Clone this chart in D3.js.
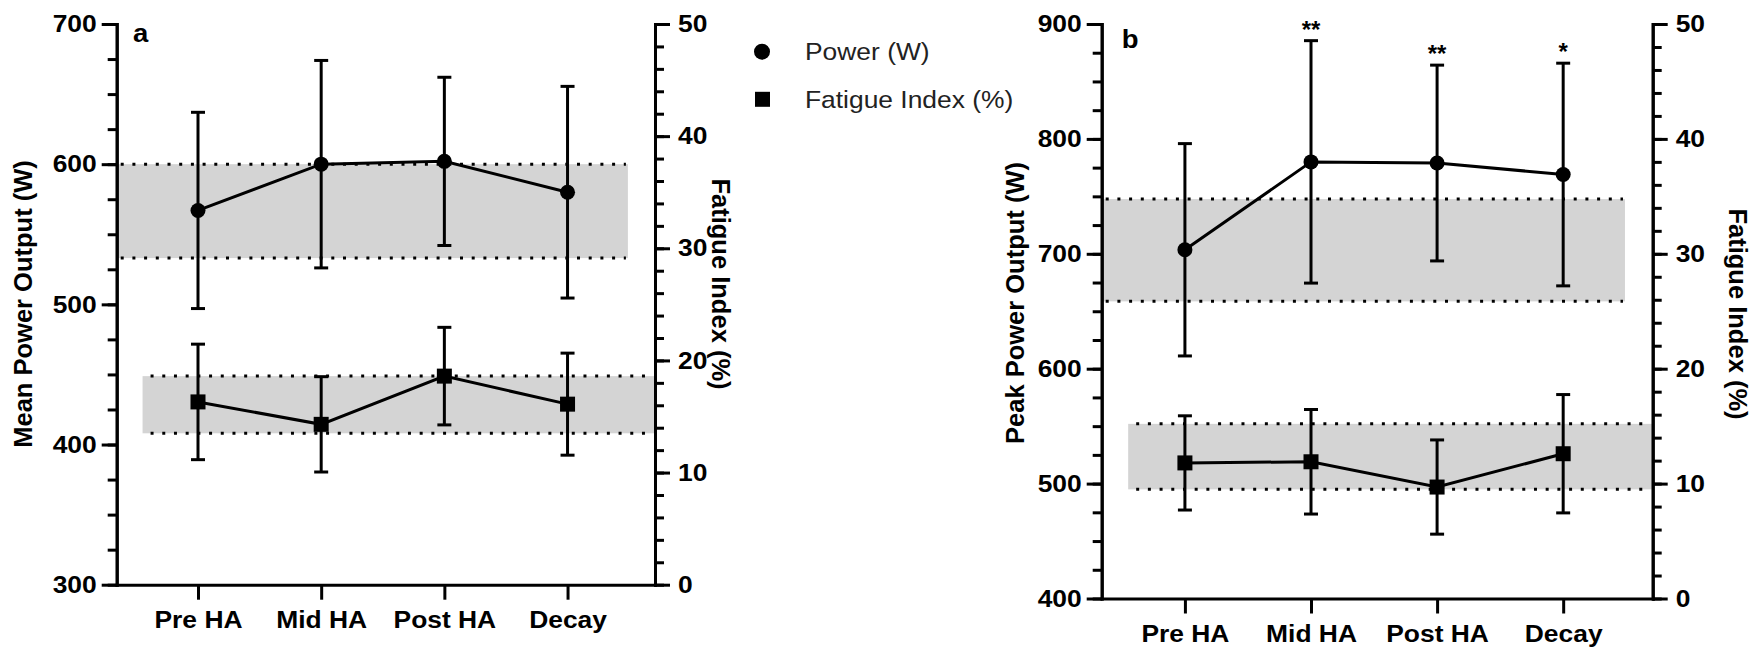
<!DOCTYPE html>
<html>
<head>
<meta charset="utf-8">
<script src="https://cdn.jsdelivr.net/npm/d3@7"></script>
<style>
  body { margin: 0; background: #fff; }
  svg { display: block; }
  text { font-family: "Liberation Sans", Arial, sans-serif; }
</style>
</head>
<body>
<svg id="chart" width="1756" height="648"></svg>
<script>
// ---- data ----
const categories = ["Pre HA", "Mid HA", "Post HA", "Decay"];

// panel a: mean power output (W) and fatigue index (%)
const meanPowerA = [567, 600, 602, 580];
const meanPowerSdA = [70, 74, 60, 75.5];
const fatigueA = [16.3, 14.3, 18.6, 16.1];
const fatigueSdA = [5.15, 4.25, 4.35, 4.55];
const powerBandA = [533, 600];
const fatigueBandA = [13.5, 18.6];

// panel b: peak power output (W) and fatigue index (%)
const peakPowerB = [703.5, 780, 779, 769];
const peakPowerSdB = [92.4, 105.5, 85.2, 96.9];
const fatigueB = [11.8, 11.9, 9.7, 12.6];
const fatigueSdB = [4.1, 4.55, 4.1, 5.15];
const powerBandB = [658.6, 747.6];
const fatigueBandB = [9.5, 15.2];
const significanceB = ["", "**", "**", "*"];

const fatigueTicks = [0, 10, 20, 30, 40, 50];

// ---- layout ----
const SX = 1.1;          // the figure's text is a little wide
const FONT = 24;
const X_DOMAIN = [-0.66, 3.71];
const UPPER_BAND_X = [-0.66, 3.49];
const LOWER_BAND_X = [-0.45, 3.71];

const svg = d3.select("#chart");

// widen text horizontally about its own anchor
function stretch(sel) {
  sel.each(function () {
    const t = d3.select(this);
    const x = +t.attr("x") || 0;
    t.attr("transform", (t.attr("transform") || "") +
      ` translate(${x},0) scale(${SX},1) translate(${-x},0)`);
  });
}

function styleAxis(g) {
  g.select(".domain").attr("stroke-width", 3).attr("stroke-linecap", "square");
  g.selectAll(".tick line").attr("stroke-width", 3);
  g.selectAll(".tick text")
    .attr("font-size", FONT).attr("font-weight", "bold").attr("fill", "#000");
  g.attr("font-family", null);
}

function drawPanel(p) {
  const g = svg.append("g");
  const x = d3.scaleLinear().domain(X_DOMAIN).range([p.left, p.right]);
  const yL = d3.scaleLinear().domain(p.powerDomain).range([p.bottom, p.top]);
  const yR = d3.scaleLinear().domain([0, 50]).range([p.bottom, p.top]);

  // shaded reference bands with dotted edges
  [[p.powerBand, yL, UPPER_BAND_X, 4], [p.fatigueBand, yR, LOWER_BAND_X, 8]].forEach(([band, y, bx, inset]) => {
    g.append("rect")
      .attr("x", x(bx[0])).attr("width", x(bx[1]) - x(bx[0]))
      .attr("y", y(band[1])).attr("height", y(band[0]) - y(band[1]))
      .attr("fill", "#d4d4d4");
    g.selectAll(null).data(band).enter().append("line")
      .attr("x1", x(bx[0]) + inset).attr("x2", x(bx[1]) - 2)
      .attr("y1", d => y(d)).attr("y2", d => y(d))
      .attr("stroke", "#000").attr("stroke-width", 3)
      .attr("stroke-dasharray", "3 8.7");
  });

  const series = [
    { mean: p.power, sd: p.powerSd, y: yL, shape: "circle" },
    { mean: p.fatigue, sd: p.fatigueSd, y: yR, shape: "square" }
  ];

  series.forEach(s => {
    const rows = s.mean.map((m, i) => ({ i, m, sd: s.sd[i] }));
    const eb = g.append("g").attr("stroke", "#000").attr("stroke-width", 3);
    eb.selectAll(".bar").data(rows).enter().append("line")
      .attr("x1", d => x(d.i)).attr("x2", d => x(d.i))
      .attr("y1", d => s.y(d.m - d.sd)).attr("y2", d => s.y(d.m + d.sd));
    rows.forEach(d => {
      [d.m - d.sd, d.m + d.sd].forEach(v => {
        eb.append("line")
          .attr("x1", x(d.i) - 7).attr("x2", x(d.i) + 7)
          .attr("y1", s.y(v)).attr("y2", s.y(v));
      });
    });

    g.append("path").datum(rows)
      .attr("fill", "none").attr("stroke", "#000").attr("stroke-width", 3)
      .attr("d", d3.line().x(d => x(d.i)).y(d => s.y(d.m)));

    if (s.shape === "circle") {
      g.selectAll(null).data(rows).enter().append("circle")
        .attr("cx", d => x(d.i)).attr("cy", d => s.y(d.m)).attr("r", 7.5)
        .attr("fill", "#000");
    } else {
      g.selectAll(null).data(rows).enter().append("rect")
        .attr("x", d => x(d.i) - 7.5).attr("y", d => s.y(d.m) - 7.5)
        .attr("width", 15).attr("height", 15).attr("fill", "#000");
    }
  });

  // significance marks above the power error bars
  if (p.significance) {
    g.selectAll(null).data(p.significance).enter().append("text")
      .attr("x", (d, i) => x(i))
      .attr("y", (d, i) => yL(p.power[i] + p.powerSd[i]) - 3)
      .attr("text-anchor", "middle")
      .attr("font-size", FONT).attr("font-weight", "bold")
      .text(d => d);
  }

  // axes
  const [lo, hi] = p.powerDomain;
  const leftMinor = g.append("g").attr("transform", `translate(${p.left},0)`)
    .call(d3.axisLeft(yL).tickValues(d3.range(lo, hi + 1, 25)).tickSize(9).tickSizeOuter(0).tickFormat(""));
  styleAxis(leftMinor);
  const left = g.append("g").attr("transform", `translate(${p.left},0)`)
    .call(d3.axisLeft(yL).tickValues(d3.range(lo, hi + 1, 100)).tickSize(15).tickSizeOuter(0).tickPadding(5));
  styleAxis(left);
  stretch(left.selectAll(".tick text"));

  const rightMinor = g.append("g").attr("transform", `translate(${p.right},0)`)
    .call(d3.axisRight(yR).tickValues(d3.range(0, 51, 2)).tickSize(9).tickSizeOuter(0).tickFormat(""));
  styleAxis(rightMinor);
  const right = g.append("g").attr("transform", `translate(${p.right},0)`)
    .call(d3.axisRight(yR).tickValues(fatigueTicks).tickSize(15).tickSizeOuter(0).tickPadding(8));
  styleAxis(right);
  stretch(right.selectAll(".tick text"));

  const bottom = g.append("g").attr("transform", `translate(0,${p.bottom})`)
    .call(d3.axisBottom(x).tickValues(d3.range(categories.length))
      .tickFormat(i => categories[i]).tickSize(15).tickSizeOuter(0).tickPadding(11));
  styleAxis(bottom);
  stretch(bottom.selectAll(".tick text"));

  // titles
  g.append("text")
    .attr("transform", `translate(${p.leftTitleX},${p.leftTitleY}) rotate(-90)`)
    .attr("text-anchor", "middle").attr("font-size", 25.5).attr("font-weight", "bold")
    .text(p.powerTitle);
  g.append("text")
    .attr("transform", `translate(${p.rightTitleX},${p.rightTitleY}) rotate(90)`)
    .attr("text-anchor", "middle").attr("font-size", 25.5).attr("font-weight", "bold")
    .text("Fatigue Index (%)");

  const letter = g.append("text")
    .attr("x", p.letterX).attr("y", p.letterY)
    .attr("font-size", FONT + 1).attr("font-weight", "bold")
    .text(p.letter);
  stretch(letter);
}

drawPanel({
  letter: "a", letterX: 133, letterY: 42,
  left: 116.7, right: 655, top: 24, bottom: 584.7,
  powerDomain: [300, 700], powerTitle: "Mean Power Output (W)",
  leftTitleX: 32, leftTitleY: 304, rightTitleX: 712, rightTitleY: 284,
  power: meanPowerA, powerSd: meanPowerSdA,
  fatigue: fatigueA, fatigueSd: fatigueSdA,
  powerBand: powerBandA, fatigueBand: fatigueBandA
});

drawPanel({
  letter: "b", letterX: 1121.7, letterY: 48,
  left: 1101.7, right: 1652.7, top: 24, bottom: 598.5,
  powerDomain: [400, 900], powerTitle: "Peak Power Output (W)",
  leftTitleX: 1024, leftTitleY: 303, rightTitleX: 1729, rightTitleY: 314,
  power: peakPowerB, powerSd: peakPowerSdB,
  fatigue: fatigueB, fatigueSd: fatigueSdB,
  powerBand: powerBandB, fatigueBand: fatigueBandB,
  significance: significanceB
});

// legend
const legendItems = ["Power (W)", "Fatigue Index (%)"];
const legend = svg.append("g");
legendItems.forEach((label, i) => {
  const cy = 51.7 + i * 47.6;
  if (i === 0) {
    legend.append("circle").attr("cx", 762).attr("cy", cy).attr("r", 8).attr("fill", "#000");
  } else {
    legend.append("rect").attr("x", 755).attr("y", cy - 7.5).attr("width", 15).attr("height", 15).attr("fill", "#000");
  }
  const t = legend.append("text")
    .attr("x", 805).attr("y", cy).attr("dy", "0.36em")
    .attr("font-size", FONT).attr("fill", "#222")
    .text(label);
  stretch(t);
});
</script>
</body>
</html>
